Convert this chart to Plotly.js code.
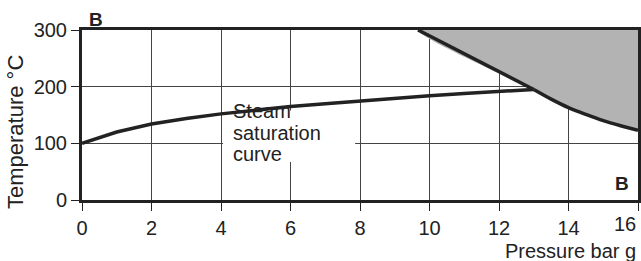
<!DOCTYPE html>
<html>
<head>
<meta charset="utf-8">
<script src="https://cdn.plot.ly/plotly-3.0.1.min.js"></script>
<style>html,body{margin:0;padding:0;background:#fff;}#chart{width:641px;height:261px;}</style>
</head>
<body>
<div id="chart"></div>
<script>
// Steam saturation curve (pressure bar g -> temperature °C)
const satPressure = [0, 1, 2, 3, 4, 5, 6, 7, 8, 9, 10, 11, 12, 13];
const satTemp = [100, 120, 134, 144, 152, 159, 165, 170, 175, 180, 184, 188, 192, 195];

// Boundary of the shaded region: straight part, then curved part
const limitStraightPressure = [9.67, 13];
const limitStraightTemp = [300, 195];
const limitCurvePressure = [13, 13.5, 14, 14.5, 15, 15.5, 16];
const limitCurveTemp = [195, 178, 163, 151, 140, 131, 123];

// Closing corners of the shaded region (top-right of chart)
const cornerPressure = [16, 9.67];
const cornerTemp = [300, 300];

const xTicks = [0, 2, 4, 6, 8, 10, 12, 14, 16];
const xTickText = ['0', '2', '4', '6', '8', '10', '12', '14', ''];
const lastXTickText = '16';
const yTicks = [0, 100, 200, 300];

const FONT = 'Liberation Sans, Arial, Helvetica, sans-serif';
const INK = '#222';

const traces = [
  {
    x: limitStraightPressure.concat(limitCurvePressure.slice(1), cornerPressure),
    y: limitStraightTemp.concat(limitCurveTemp.slice(1), cornerTemp),
    mode: 'lines', fill: 'toself', fillcolor: '#b3b3b3',
    line: {width: 0, color: 'rgba(0,0,0,0)', shape: 'spline', smoothing: 0.6},
    hoverinfo: 'skip', showlegend: false
  },
  {
    x: limitStraightPressure, y: limitStraightTemp, mode: 'lines',
    line: {color: INK, width: 3.5}, showlegend: false
  },
  {
    x: limitCurvePressure, y: limitCurveTemp, mode: 'lines',
    line: {color: INK, width: 3.5, shape: 'spline', smoothing: 0.8}, showlegend: false
  },
  {
    x: satPressure, y: satTemp, mode: 'lines',
    line: {color: INK, width: 3.5}, showlegend: false
  }
];

const layout = {
  width: 641, height: 261,
  margin: {l: 82, r: 3, t: 30, b: 61},
  paper_bgcolor: '#fff', plot_bgcolor: '#fff',
  showlegend: false,
  font: {family: FONT, color: INK, size: 20},
  xaxis: {
    range: [0, 16], tickvals: xTicks, ticktext: xTickText,
    showgrid: true, gridcolor: '#444', gridwidth: 1,
    showline: true, linecolor: INK, linewidth: 3, mirror: true,
    ticks: 'outside', ticklen: 8, tickwidth: 1, tickcolor: INK,
    tickfont: {size: 20, family: FONT, color: INK},
    zeroline: false, fixedrange: true
  },
  yaxis: {
    range: [0, 300], tickvals: yTicks, ticktext: yTicks.map(String),
    showgrid: true, gridcolor: '#444', gridwidth: 1,
    showline: true, linecolor: INK, linewidth: 3, mirror: true,
    ticks: 'outside', ticklen: 8, tickwidth: 1, tickcolor: INK,
    tickfont: {size: 20, family: FONT, color: INK},
    zeroline: false, fixedrange: true
  },
  shapes: [
    {type: 'rect', xref: 'x', yref: 'y', x0: 4.06, x1: 7.86, y0: 67, y1: 158,
     fillcolor: '#fff', line: {width: 0}, layer: 'between'}
  ],
  annotations: [
    {text: 'Steam', xref: 'x', yref: 'paper', x: 4.3, y: (200-111)/170, xanchor: 'left', yanchor: 'middle', showarrow: false, font: {size: 20, family: FONT, color: INK}},
    {text: 'saturation', xref: 'x', yref: 'paper', x: 4.3, y: (200-133)/170, xanchor: 'left', yanchor: 'middle', showarrow: false, font: {size: 20, family: FONT, color: INK}},
    {text: 'curve', xref: 'x', yref: 'paper', x: 4.3, y: (200-154)/170, xanchor: 'left', yanchor: 'middle', showarrow: false, font: {size: 20, family: FONT, color: INK}},
    {text: lastXTickText, xref: 'paper', yref: 'paper', x: 1.0, y: (200-224)/170, xanchor: 'right', yanchor: 'middle', showarrow: false, font: {size: 20, family: FONT, color: INK}},
    {text: 'Temperature °C', xref: 'paper', yref: 'paper', x: (15-82)/556, y: (200-132)/170, xanchor: 'center', yanchor: 'middle', textangle: -90, showarrow: false, font: {size: 22, family: FONT, color: INK}},
    {text: 'Pressure bar g', xref: 'paper', yref: 'paper', x: 1.0, y: (200-251)/170, xanchor: 'right', yanchor: 'middle', showarrow: false, font: {size: 20, family: FONT, color: INK}},
    {text: '<b>B</b>', xref: 'paper', yref: 'paper', x: (96-82)/556, y: (200-19)/170, xanchor: 'center', yanchor: 'middle', showarrow: false, font: {size: 19, family: FONT, color: INK}},
    {text: '<b>B</b>', xref: 'paper', yref: 'paper', x: (621.5-82)/556, y: (200-183.5)/170, xanchor: 'center', yanchor: 'middle', showarrow: false, font: {size: 19, family: FONT, color: INK}}
  ]
};

Plotly.newPlot('chart', traces, layout, {displayModeBar: false, staticPlot: true});
</script>
</body>
</html>
